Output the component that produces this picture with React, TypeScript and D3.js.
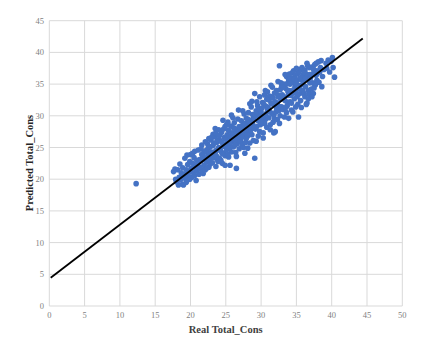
import React from "react";
import * as d3 from "d3";

const xTicks = [0, 5, 10, 15, 20, 25, 30, 35, 40, 45, 50];
const yTicks = [0, 5, 10, 15, 20, 25, 30, 35, 40, 45];
const xTitle = "Real Total_Cons";
const yTitle = "Predicted Total_Cons";
// regression line end points [real, predicted]
const fitStart: [number, number] = [0.2, 4.45];
const fitEnd: [number, number] = [44.4, 42.2];

// [real, predicted]
const points: [number, number][] = [
  [12.3, 19.3],
  [17.6, 21.2], [17.9, 20.0], [17.8, 21.6], [18.2, 21.5], [18.3, 19.1], [18.0, 19.6],
  [18.4, 20.3], [18.6, 19.9], [18.7, 21.0], [18.9, 19.2], [18.5, 22.4], [18.8, 20.6], [19.0, 19.1], [18.9, 21.8],
  [19.1, 20.2], [19.2, 23.3], [19.3, 20.8], [19.4, 21.5], [19.5, 19.8], [19.5, 23.8], [19.6, 22.3], [19.7, 20.4], [19.8, 21.1], [19.9, 22.8], [19.9, 20.0], [19.4, 19.5],
  [20.0, 23.9], [20.1, 21.7], [20.2, 20.3], [20.3, 22.5], [20.4, 21.0], [20.5, 23.4], [20.6, 20.6], [20.7, 22.0], [20.8, 19.8], [20.9, 21.4], [20.9, 23.0], [20.3, 24.1], [20.6, 24.4], [20.8, 21.8],
  [21.0, 22.4], [21.1, 24.6], [21.2, 20.8], [21.3, 23.1], [21.4, 21.6], [21.5, 22.9], [21.6, 25.4], [21.7, 21.2], [21.8, 23.7], [21.9, 22.2], [21.9, 24.3], [21.3, 21.9], [21.6, 23.9], [21.8, 20.9], [21.5, 24.8],
  [22.0, 23.2], [22.1, 21.5], [22.2, 24.5], [22.3, 22.7], [22.4, 25.6], [22.5, 23.8], [22.6, 21.9], [22.7, 24.1], [22.8, 22.4], [22.9, 26.2], [22.9, 23.5], [22.2, 22.9], [22.5, 24.9], [22.7, 23.0], [22.4, 21.8], [22.8, 25.1], [22.1, 25.9], [22.6, 26.4],
  [23.0, 24.3], [23.1, 22.6], [23.2, 25.3], [23.3, 23.4], [23.4, 26.7], [23.5, 24.0], [23.6, 22.0], [23.7, 25.8], [23.8, 23.1], [23.9, 24.7], [23.2, 27.1], [23.5, 28.0], [23.4, 23.9], [23.6, 24.5], [23.8, 26.2], [23.9, 22.8], [23.3, 25.7], [23.7, 23.6], [23.0, 26.6], [23.6, 27.3],
  [24.0, 25.0], [24.1, 23.3], [24.2, 26.1], [24.3, 24.4], [24.4, 27.4], [24.5, 22.5], [24.6, 25.5], [24.6, 29.3], [24.7, 24.1], [24.8, 26.6], [24.9, 23.7], [24.9, 22.2], [24.2, 24.8], [24.4, 25.9], [24.5, 24.0], [24.7, 27.9], [24.8, 25.2], [24.3, 23.0], [24.1, 26.9], [24.0, 27.8], [24.9, 28.3],
  [25.0, 26.3], [25.1, 24.6], [25.2, 27.0], [25.3, 25.3], [25.4, 23.5], [25.5, 26.8], [25.6, 22.2], [25.6, 25.0], [25.7, 28.4], [25.8, 30.1], [25.8, 24.3], [25.9, 26.0], [25.2, 25.9], [25.4, 27.7], [25.5, 24.9], [25.7, 26.5], [25.9, 27.3], [25.3, 23.9], [25.1, 28.6], [25.6, 25.7], [25.3, 29.0],
  [26.0, 27.0], [26.1, 25.1], [26.2, 28.9], [26.3, 26.2], [26.4, 24.2], [26.5, 21.7], [26.5, 27.6], [26.6, 25.6], [26.7, 29.5], [26.8, 30.9], [26.8, 26.7], [26.9, 24.8], [26.2, 26.6], [26.4, 27.9], [26.6, 26.1], [26.9, 28.3], [26.3, 25.4], [26.7, 27.2], [26.1, 28.1], [26.5, 23.6], [26.0, 29.7],
  [27.0, 27.7], [27.1, 26.0], [27.2, 29.2], [27.3, 25.3], [27.4, 28.5], [27.5, 26.9], [27.6, 30.3], [27.7, 24.1], [27.7, 27.4], [27.8, 28.8], [27.9, 26.4], [27.2, 27.3], [27.4, 30.8], [27.6, 28.1], [27.8, 25.8], [27.9, 29.6], [27.1, 28.0], [27.5, 25.0], [27.3, 26.6], [27.9, 27.8],
  [28.0, 28.4], [28.1, 26.8], [28.2, 30.5], [28.3, 27.6], [28.4, 25.7], [28.5, 29.1], [28.6, 31.4], [28.7, 27.0], [28.8, 28.7], [28.9, 26.1], [28.2, 29.4], [28.4, 31.9], [28.6, 28.0], [28.8, 30.2], [28.1, 24.9], [28.3, 28.9], [28.5, 27.3], [28.7, 32.3], [28.9, 29.6], [28.0, 27.0],
  [29.0, 29.4], [29.1, 33.5], [29.1, 23.3], [29.2, 27.9], [29.3, 30.8], [29.4, 28.3], [29.5, 31.6], [29.6, 26.8], [29.7, 29.9], [29.8, 33.0], [29.9, 28.6], [29.2, 30.1], [29.4, 32.2], [29.6, 29.2], [29.8, 27.5], [29.3, 26.0], [29.5, 30.4], [29.7, 31.0], [29.9, 30.0], [29.0, 28.1],
  [30.0, 30.6], [30.1, 28.9], [30.2, 32.1], [30.3, 27.3], [30.4, 30.0], [30.5, 33.3], [30.6, 29.4], [30.7, 31.5], [30.8, 28.2], [30.9, 30.9], [30.2, 29.6], [30.4, 31.8], [30.6, 34.0], [30.8, 32.6], [30.1, 31.2], [30.3, 26.5], [30.5, 28.8], [30.7, 30.3], [30.9, 33.8], [30.0, 29.1],
  [31.0, 31.3], [31.1, 29.7], [31.2, 33.1], [31.3, 28.6], [31.4, 32.0], [31.5, 30.4], [31.6, 34.5], [31.7, 29.0], [31.8, 27.3], [31.8, 31.7], [31.9, 33.6], [31.2, 30.7], [31.4, 34.8], [31.6, 31.9], [31.8, 30.1], [31.1, 32.5], [31.3, 27.8], [31.5, 33.0], [31.7, 32.8], [31.9, 29.5],
  [32.0, 32.2], [32.0, 27.5], [32.1, 30.6], [32.2, 34.0], [32.3, 29.4], [32.4, 35.4], [32.5, 31.5], [32.6, 37.9], [32.6, 33.2], [32.7, 30.0], [32.8, 32.6], [32.9, 34.6], [32.2, 31.1], [32.4, 33.0], [32.6, 28.8], [32.8, 35.2], [32.1, 33.6], [32.3, 32.0], [32.5, 30.8], [32.7, 34.1], [32.9, 31.4],
  [33.0, 33.3], [33.1, 31.0], [33.2, 35.0], [33.3, 29.8], [33.4, 32.4], [33.5, 34.3], [33.6, 36.2], [33.7, 31.6], [33.8, 33.8], [33.9, 29.6], [33.9, 35.7], [33.2, 32.8], [33.4, 36.5], [33.6, 30.5], [33.8, 32.1], [33.1, 34.5], [33.3, 33.0], [33.5, 31.3], [33.7, 35.1], [33.9, 33.2],
  [34.0, 34.0], [34.1, 32.2], [34.2, 36.0], [34.3, 30.9], [34.4, 33.5], [34.5, 35.3], [34.6, 37.1], [34.7, 32.7], [34.8, 34.6], [34.9, 31.4], [34.2, 33.2], [34.4, 36.8], [34.6, 34.1], [34.8, 36.3], [34.1, 35.0], [34.3, 32.0], [34.5, 30.6], [34.7, 35.8], [34.9, 33.6], [34.0, 36.6],
  [35.0, 35.0], [35.1, 33.0], [35.2, 36.7], [35.3, 29.8], [35.4, 34.2], [35.5, 37.3], [35.6, 32.4], [35.7, 35.7], [35.8, 33.6], [35.9, 36.4], [35.2, 31.8], [35.4, 37.0], [35.6, 34.8], [35.8, 37.6], [35.1, 35.6], [35.3, 33.4], [35.5, 36.0], [35.7, 31.3], [35.9, 34.0], [35.0, 37.5],
  [36.0, 35.4], [36.1, 33.5], [36.2, 37.2], [36.3, 34.6], [36.4, 31.8], [36.5, 38.3], [36.5, 32.0], [36.6, 36.1], [36.7, 34.0], [36.8, 37.6], [36.9, 35.2], [36.2, 33.0], [36.4, 36.6], [36.6, 37.9], [36.8, 33.4], [36.1, 36.8], [36.3, 35.8], [36.7, 32.7], [36.9, 36.5],
  [37.0, 36.0], [37.1, 34.2], [37.2, 37.7], [37.3, 35.2], [37.4, 33.5], [37.5, 36.9], [37.6, 38.1], [37.7, 34.9], [37.8, 36.4], [37.9, 35.6], [37.2, 33.0], [37.4, 37.4], [37.6, 35.0], [37.8, 38.3], [37.1, 36.5], [37.5, 34.4], [37.9, 37.1],
  [38.0, 36.7], [38.1, 38.5], [38.2, 35.3], [38.4, 37.6], [38.6, 34.6], [38.7, 36.2], [38.3, 36.9], [38.5, 38.7], [38.9, 37.3],
  [39.2, 38.3], [39.5, 38.8], [39.7, 36.9], [39.3, 37.5], [39.9, 38.6],
  [40.1, 39.2], [40.4, 36.1], [40.2, 37.6],
];

const W = 426;
const H = 350;
const left = 49.3;
const right = 402.3;
const top = 20.7;
const bottom = 306;

export default function App() {
  const x = d3.scaleLinear().domain([0, 50]).range([left, right]);
  const y = d3.scaleLinear().domain([0, 45]).range([bottom, top]);
  const line = d3.line<[number, number]>().x((d) => x(d[0])).y((d) => y(d[1]));
  const grid = "#d9d9d9";
  const tickColor = "#7f7f7f";
  const serif = "'Liberation Serif', 'DejaVu Serif', serif";
  return (
    <svg
      width={W}
      height={H}
      style={{ position: "absolute", left: 0, top: 0, background: "#fff" }}
    >
      <rect x={0} y={0} width={W} height={H} fill="#fff" />
      {xTicks.map((t) => (
        <line key={"gx" + t} x1={x(t)} x2={x(t)} y1={top} y2={bottom} stroke={grid} strokeWidth={1} />
      ))}
      {yTicks.map((t) => (
        <line key={"gy" + t} x1={left} x2={right} y1={y(t)} y2={y(t)} stroke={grid} strokeWidth={1} />
      ))}
      {xTicks.map((t) => (
        <text key={"tx" + t} x={x(t)} y={318} textAnchor="middle" fontFamily={serif} fontSize={8.5} fill={tickColor}>
          {t}
        </text>
      ))}
      {yTicks.map((t) => (
        <text key={"ty" + t} x={44} y={y(t) + 3} textAnchor="end" fontFamily={serif} fontSize={8.5} fill={tickColor}>
          {t}
        </text>
      ))}
      {points.map((p, i) => (
        <circle key={i} cx={x(p[0])} cy={y(p[1])} r={2.8} fill="#4472C4" />
      ))}
      <path d={line([fitStart, fitEnd]) || ""} stroke="#000" strokeWidth={1.8} fill="none" />
      <text x={225.7} y={332.5} textAnchor="middle" fontFamily={serif} fontWeight="bold" fontSize={10.5} fill="#404040">
        {xTitle}
      </text>
      <text
        transform={`translate(32.5, 163) rotate(-90)`}
        textAnchor="middle"
        fontFamily={serif}
        fontWeight="bold"
        fontSize={10.5}
        fill="#262626"
      >
        {yTitle}
      </text>
    </svg>
  );
}
